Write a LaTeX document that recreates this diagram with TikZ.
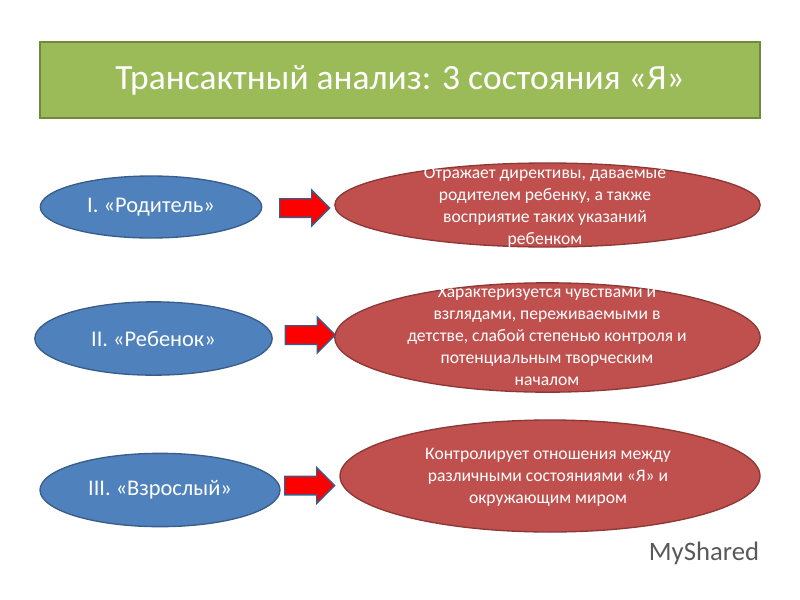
\documentclass[tikz,border=0pt]{standalone}
\usepackage{fontspec}
\setmainfont{Carlito}
\usetikzlibrary{shapes,arrows}

\definecolor{titlegreen}{HTML}{9BBB59}
\definecolor{greenline}{HTML}{71893F}
\definecolor{stateblue}{HTML}{4F81BD}
\definecolor{blueline}{HTML}{385D8A}
\definecolor{notered}{HTML}{C0504D}
\definecolor{redline}{HTML}{8C3836}

\begin{document}
\begin{tikzpicture}[x=0.75pt, y=-0.75pt,
	title/.style={draw=greenline, fill=titlegreen, line width=1.2pt, minimum width=540pt, minimum height=57pt, text=white, font=\fontsize{26.6}{30}\selectfont},
	state/.style={ellipse, draw=blueline, fill=stateblue, line width=1pt, inner sep=0pt, text=white, font=\fontsize{16.8}{20}\selectfont},
	note/.style={ellipse, draw=redline, fill=notered, line width=1pt, inner sep=0pt},
	notetext/.style={align=center, text=white, inner sep=0pt, font=\fontsize{13.2}{16.5}\selectfont},
	pointer/.style={single arrow, draw=blueline, fill=red, line width=1pt, inner xsep=0pt, inner ysep=6.5pt, single arrow head extend=6.5pt, minimum height=37.5pt, minimum width=26.5pt}]
	
		\useasboundingbox (0,0) rectangle (800,600);
		
		\node[title] (head) at (400,80) {Трансактный анализ: 3 состояния «Я»};
		
		\node[state, minimum width=166pt, minimum height=46.5pt] (parent) at (151,207) {I. «Родитель»};
		\node[state, minimum width=178pt, minimum height=55pt] (child) at (153.5,338.5) {II. «Ребенок»};
		\node[state, minimum width=180pt, minimum height=55pt] (adult) at (160,490) {III. «Взрослый»};
		
		\node[pointer] (p1) at (300,208) {};
		\node[pointer] (p2) at (305.5,335) {};
		\node[pointer] (p3) at (305,485.5) {};
		
		\node[note, minimum width=319pt, minimum height=63pt] (n1) at (547.5,205) {};
		\node[note, minimum width=319pt, minimum height=82pt] (n2) at (547.5,337.5) {};
		\node[note, minimum width=315pt, minimum height=84pt] (n3) at (550,476) {};
		
		\node[notetext] (t1) at (545,207) {Отражает директивы, даваемые\\родителем ребенку, а также\\восприятие таких указаний\\ребенком};
		\node[notetext] (t2) at (547,336) {Характеризуется чувствами и\\взглядами, переживаемыми в\\детстве, слабой степенью контроля и\\потенциальным творческим\\началом};
		\node[notetext] (t3) at (548,477) {Контролирует отношения между\\различными состояниями «Я» и\\окружающим миром};
		
		\node[text=gray!70!black, font=\fontsize{20}{24}\selectfont] (mark) at (704,553) {MyShared};
		
	\end{tikzpicture}
\end{document}
